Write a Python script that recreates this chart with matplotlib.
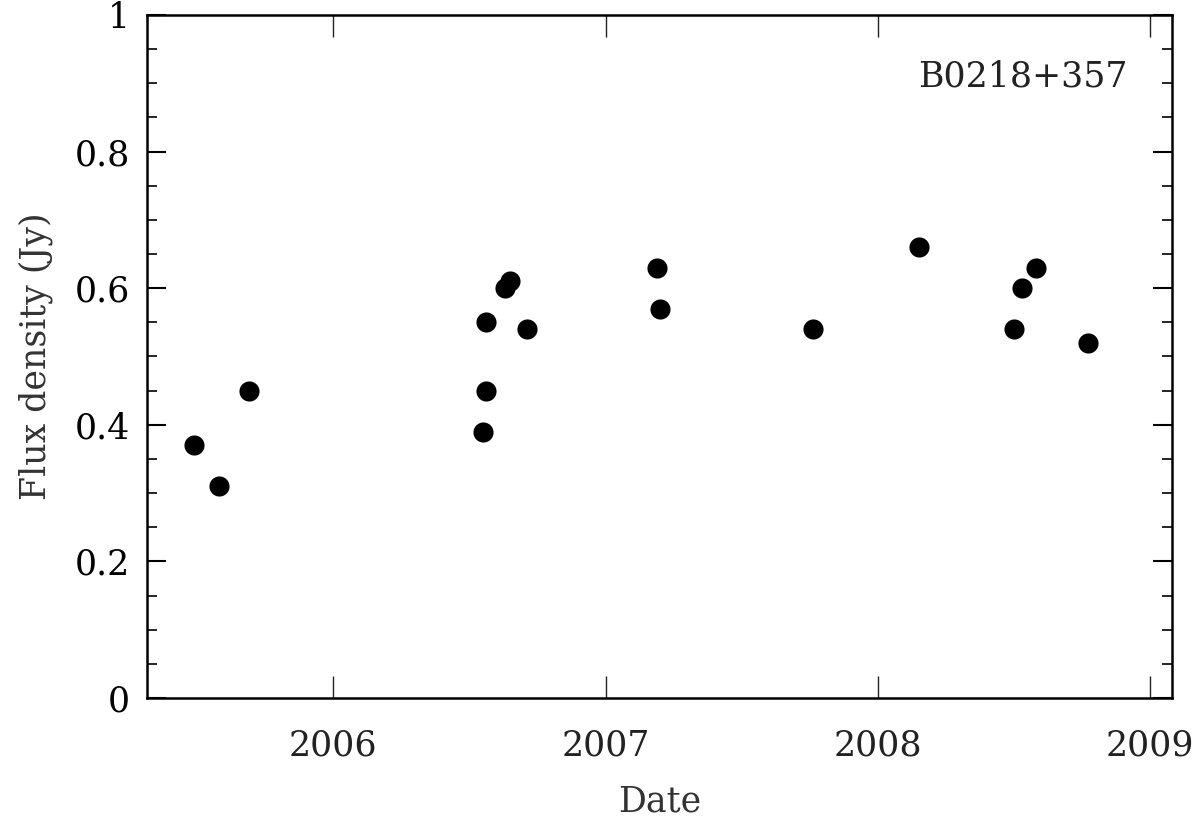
import matplotlib
matplotlib.use("Agg")
import matplotlib.pyplot as plt
from matplotlib.ticker import MultipleLocator

# decimal year of each observation and flux density (Jy)
dates = [2005.49, 2005.58, 2005.69, 2006.55, 2006.56, 2006.56, 2006.63, 2006.65,
         2006.71, 2007.19, 2007.20, 2007.76, 2008.15, 2008.50, 2008.53, 2008.58,
         2008.77]
flux = [0.37, 0.31, 0.45, 0.39, 0.45, 0.55, 0.60, 0.61,
        0.54, 0.63, 0.57, 0.54, 0.66, 0.54, 0.60, 0.63,
        0.52]
year_ticks = [2006, 2007, 2008, 2009]
flux_ticks = [0, 0.2, 0.4, 0.6, 0.8, 1]
flux_labels = ['0', '0.2', '0.4', '0.6', '0.8', '1']
source = "B0218+357"

plt.rcParams['font.family'] = 'DejaVu Serif'

fig = plt.figure(figsize=(12, 8.18), dpi=100)
ax = fig.add_axes([0.1225, 0.1467, 0.8542, 0.835])

ax.scatter(dates, flux, s=210, color='black', zorder=3, linewidths=0)

ax.set_xlim(2005.316, 2009.08)
ax.set_ylim(0, 1)

ax.set_xticks(year_ticks)
ax.set_xticklabels([str(y) for y in year_ticks])
ax.set_yticks(flux_ticks)
ax.set_yticklabels(flux_labels)
ax.yaxis.set_minor_locator(MultipleLocator(0.05))

ax.tick_params(axis='x', which='major', direction='in', top=True, length=16, width=1,
               labelsize=25, pad=22, colors='#222222')
ax.tick_params(axis='y', which='major', direction='in', right=True, length=14, width=1.5,
               labelsize=25, pad=12)
ax.tick_params(axis='y', which='minor', direction='in', right=True, length=7, width=1.2)
for s in ax.spines.values():
    s.set_linewidth(1.8)

ax.set_xlabel('Date', fontsize=25, labelpad=16, color='#333333')
ax.set_ylabel('Flux density (Jy)', fontsize=25, labelpad=16, color='#333333')

ax.text(0.957, 0.91, source, transform=ax.transAxes, ha='right', va='center',
        fontsize=25, color='#222222')

fig.savefig('out.png', dpi=100)
